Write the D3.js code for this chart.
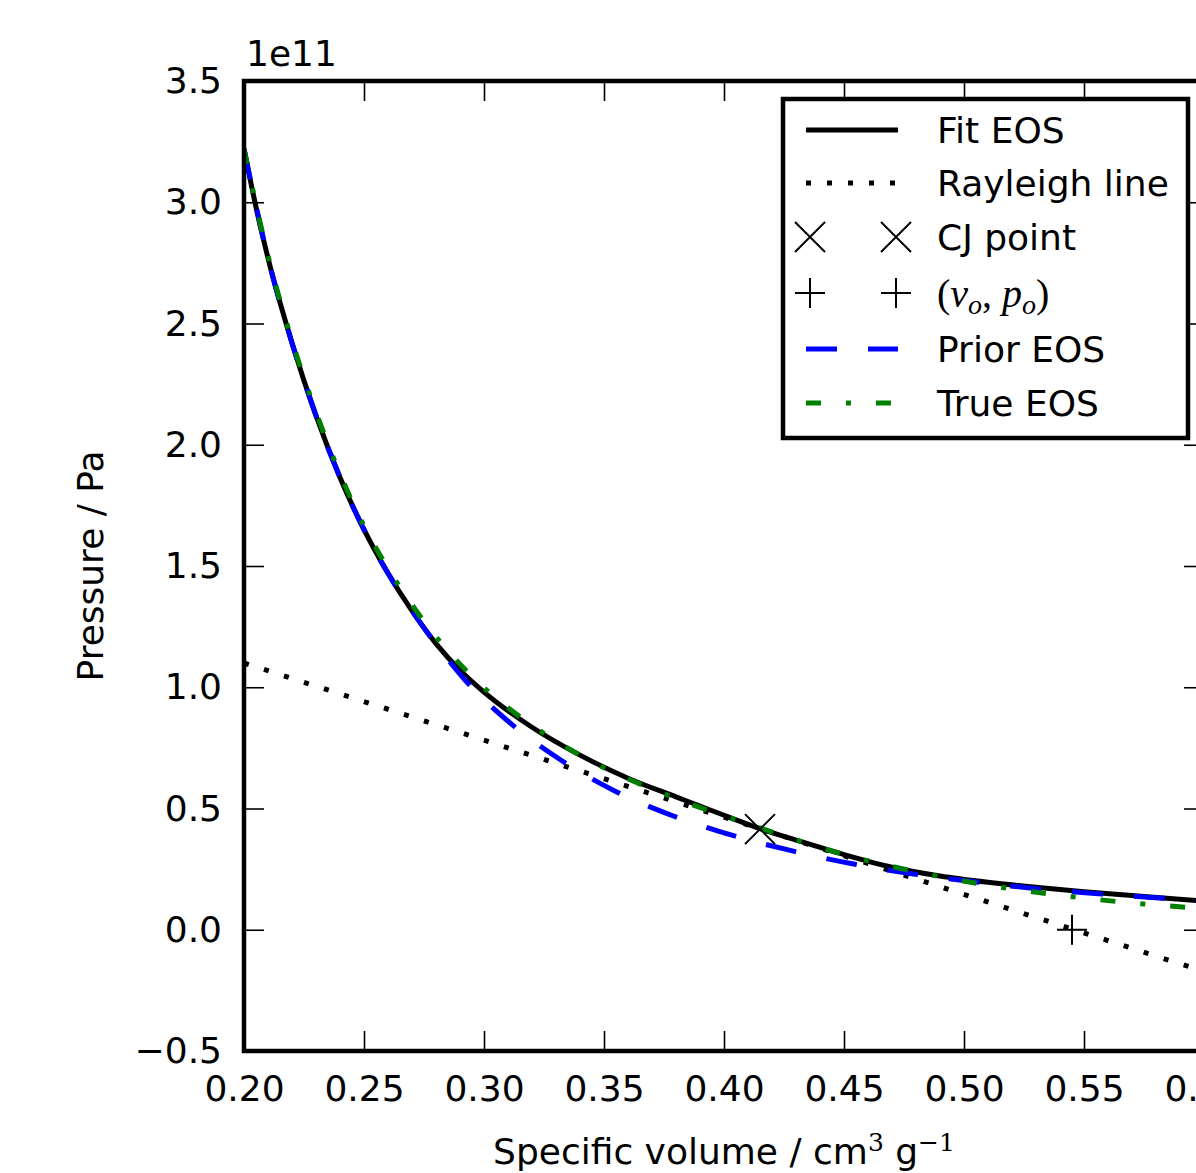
<!DOCTYPE html>
<html>
<head>
<meta charset="utf-8">
<script src="https://cdn.jsdelivr.net/npm/d3@7"></script>
<style>
  body { margin: 0; background: #fff; }
  svg { display: block; font-family: "DejaVu Sans", sans-serif; }
</style>
</head>
<body>
<div id="chart"></div>
<script>
// Data (pressure in units of 1e11 Pa, specific volume in cm^3/g)
var fitVolume = [0.200, 0.205, 0.210, 0.220, 0.230, 0.240, 0.250, 0.260, 0.270, 0.280, 0.290, 0.300, 0.320, 0.340, 0.360, 0.380, 0.400, 0.415, 0.430, 0.450, 0.470, 0.490, 0.510, 0.530, 0.550, 0.575, 0.600];
var fitPressure = [3.22, 2.98, 2.77, 2.42, 2.12, 1.865, 1.65, 1.47, 1.315, 1.18, 1.07, 0.98, 0.835, 0.72, 0.625, 0.548, 0.472, 0.417, 0.37, 0.31, 0.258, 0.222, 0.196, 0.175, 0.157, 0.137, 0.118];

var priorVolume = [0.200, 0.210, 0.220, 0.230, 0.240, 0.250, 0.260, 0.270, 0.2757, 0.2921, 0.3111, 0.332, 0.3547, 0.3786, 0.4033, 0.4285, 0.454, 0.4796, 0.5053, 0.5313, 0.5574, 0.583, 0.600];
var priorPressure = [3.22, 2.77, 2.42, 2.12, 1.865, 1.65, 1.47, 1.315, 1.235, 1.03, 0.851, 0.70, 0.571, 0.47, 0.39, 0.325, 0.271, 0.229, 0.197, 0.168, 0.147, 0.13, 0.12];

var trueVolume = [0.200, 0.210, 0.220, 0.230, 0.240, 0.250, 0.260, 0.270, 0.2778, 0.2976, 0.3219, 0.348, 0.3733, 0.415, 0.4483, 0.490, 0.5204, 0.5496, 0.580, 0.600];
var truePressure = [3.22, 2.78, 2.43, 2.135, 1.88, 1.665, 1.49, 1.34, 1.235, 1.02, 0.83, 0.678, 0.567, 0.42, 0.315, 0.219, 0.168, 0.131, 0.102, 0.088];

var rayleighVolume = [0.200, 0.600];
var rayleighPressure = [1.10, -0.172];

var cjPoint = [0.415, 0.415];
var initialPoint = [0.545, 0.0];

var xTicks = [0.20, 0.25, 0.30, 0.35, 0.40, 0.45, 0.50, 0.55, 0.60];
var yTicks = [-0.5, 0.0, 0.5, 1.0, 1.5, 2.0, 2.5, 3.0, 3.5];

var legendLabels = ["Fit EOS", "Rayleigh line", "CJ point", "(vo, po)", "Prior EOS", "True EOS"];

// Canvas
var W = 1196, H = 1173;
var margin = { left: 244, right: 1204, top: 81, bottom: 1051 };
var fontSize = 36;

var svg = d3.select("#chart")
    .append("svg")
    .attr("width", W)
    .attr("height", H);

svg.append("defs").append("clipPath")
    .attr("id", "plotclip")
    .append("rect")
    .attr("x", margin.left).attr("y", margin.top)
    .attr("width", margin.right - margin.left).attr("height", margin.bottom - margin.top);

var x = d3.scaleLinear().domain([0.2, 0.6]).range([margin.left, margin.right]);
var y = d3.scaleLinear().domain([-0.5, 3.5]).range([margin.bottom, margin.top]);

function zip(a, b) { return a.map(function (v, i) { return [v, b[i]]; }); }

var line = d3.line()
    .x(function (d) { return x(d[0]); })
    .y(function (d) { return y(d[1]); })
    .curve(d3.curveMonotoneX);

var plot = svg.append("g").attr("clip-path", "url(#plotclip)");

// Fit EOS
plot.append("path")
    .datum(zip(fitVolume, fitPressure))
    .attr("d", line)
    .attr("fill", "none").attr("stroke", "#000").attr("stroke-width", 5);

// Rayleigh line
plot.append("path")
    .datum(zip(rayleighVolume, rayleighPressure))
    .attr("d", d3.line().x(function (d) { return x(d[0]); }).y(function (d) { return y(d[1]); }))
    .attr("fill", "none").attr("stroke", "#000").attr("stroke-width", 5)
    .attr("stroke-dasharray", "5,16");

// markers
function drawX(g, cx, cy) {
    g.append("path")
        .attr("d", "M" + (cx - 15) + "," + (cy - 15) + "L" + (cx + 15) + "," + (cy + 15) +
                   "M" + (cx - 15) + "," + (cy + 15) + "L" + (cx + 15) + "," + (cy - 15))
        .attr("stroke", "#000").attr("stroke-width", 2).attr("fill", "none");
}
function drawPlus(g, cx, cy) {
    g.append("path")
        .attr("d", "M" + (cx - 15) + "," + cy + "L" + (cx + 15) + "," + cy +
                   "M" + cx + "," + (cy - 15) + "L" + cx + "," + (cy + 15))
        .attr("stroke", "#000").attr("stroke-width", 2).attr("fill", "none");
}
drawX(svg, x(cjPoint[0]), y(cjPoint[1]));
drawPlus(svg, x(initialPoint[0]), y(initialPoint[1]));

// Prior EOS
plot.append("path")
    .datum(zip(priorVolume, priorPressure))
    .attr("d", line)
    .attr("fill", "none").attr("stroke", "#0000ff").attr("stroke-width", 5)
    .attr("stroke-dasharray", "31,31");

// True EOS
plot.append("path")
    .datum(zip(trueVolume, truePressure))
    .attr("d", line)
    .attr("fill", "none").attr("stroke", "#008000").attr("stroke-width", 5)
    .attr("stroke-dasharray", "15,25,5,25");

// Axes, ticks pointing inward
var xAxis = svg.append("g")
    .attr("transform", "translate(0," + margin.bottom + ")")
    .call(d3.axisBottom(x).tickValues(xTicks).tickSizeInner(-20).tickSizeOuter(0).tickPadding(24)
        .tickFormat(d3.format(".2f")));
var xTop = svg.append("g")
    .attr("transform", "translate(0," + margin.top + ")")
    .call(d3.axisTop(x).tickValues(xTicks).tickSizeInner(-20).tickSizeOuter(0).tickFormat(""));
var yAxis = svg.append("g")
    .attr("transform", "translate(" + margin.left + ",0)")
    .call(d3.axisLeft(y).tickValues(yTicks).tickSizeInner(-20).tickSizeOuter(0).tickPadding(22)
        .tickFormat(function (d) { return d3.format(".1f")(d).replace("-", "\u2212"); }));
var yRight = svg.append("g")
    .attr("transform", "translate(" + margin.right + ",0)")
    .call(d3.axisRight(y).tickValues(yTicks).tickSizeInner(-20).tickSizeOuter(0).tickFormat(""));

[xAxis, xTop, yAxis, yRight].forEach(function (g) {
    g.select(".domain").remove();
    g.selectAll(".tick line").attr("stroke", "#000").attr("stroke-width", 1.6);
    g.selectAll(".tick text")
        .attr("fill", "#000")
        .style("font-family", "DejaVu Sans")
        .style("font-size", fontSize + "px");
});

// Spines
svg.append("rect")
    .attr("x", margin.left).attr("y", margin.top)
    .attr("width", margin.right - margin.left).attr("height", margin.bottom - margin.top)
    .attr("fill", "none").attr("stroke", "#000").attr("stroke-width", 4.5);

// Offset text
svg.append("text")
    .attr("x", 246).attr("y", 66)
    .style("font-size", fontSize + "px")
    .text("1e11");

// Axis labels
var xLabel = svg.append("text")
    .attr("x", (margin.left + margin.right) / 2).attr("y", 1164)
    .attr("text-anchor", "middle")
    .style("font-size", fontSize + "px");
xLabel.append("tspan").text("Specific volume / cm");
xLabel.append("tspan").attr("dy", -13).style("font-family", "DejaVu Serif").style("font-size", "25px").text("3");
xLabel.append("tspan").attr("dy", 13).text(" g");
xLabel.append("tspan").attr("dy", -13).style("font-family", "DejaVu Serif").style("font-size", "25px").text("\u22121");

svg.append("text")
    .attr("transform", "translate(103," + ((margin.top + margin.bottom) / 2) + ") rotate(-90)")
    .attr("text-anchor", "middle")
    .style("font-size", fontSize + "px")
    .text("Pressure / Pa");

// Legend
var legend = svg.append("g");
legend.append("rect")
    .attr("x", 783).attr("y", 99)
    .attr("width", 405).attr("height", 339)
    .attr("fill", "#fff").attr("stroke", "#000").attr("stroke-width", 4.5);

var rowY = [130, 183, 237, 293, 349, 403];
var hx0 = 806, hx1 = 898, tx = 937;

function handleLine(yy, color, dash) {
    var p = legend.append("line")
        .attr("x1", hx0).attr("x2", hx1).attr("y1", yy).attr("y2", yy)
        .attr("stroke", color).attr("stroke-width", 5);
    if (dash) p.attr("stroke-dasharray", dash);
}
handleLine(rowY[0], "#000", null);
handleLine(rowY[1], "#000", "5,16");
drawX(legend, 810, rowY[2]); drawX(legend, 896, rowY[2]);
drawPlus(legend, 810, rowY[3]); drawPlus(legend, 896, rowY[3]);
handleLine(rowY[4], "#0000ff", "31,31");
handleLine(rowY[5], "#008000", "15,25,5,25");

legendLabels.forEach(function (lab, i) {
    var t = legend.append("text")
        .attr("x", tx).attr("y", rowY[i])
        .attr("dy", "0.36em")
        .style("font-size", fontSize + "px");
    if (i === 3) {
        t.style("font-family", "Liberation Serif").style("font-size", "40px");
        t.append("tspan").text("(");
        t.append("tspan").style("font-style", "italic").text("v");
        t.append("tspan").attr("dy", 7).style("font-style", "italic").style("font-size", "28px").text("o");
        t.append("tspan").attr("dy", -7).text(", ");
        t.append("tspan").style("font-style", "italic").text("p");
        t.append("tspan").attr("dy", 7).style("font-style", "italic").style("font-size", "28px").text("o");
        t.append("tspan").attr("dy", -7).text(")");
    } else {
        t.text(lab);
    }
});
</script>
</body>
</html>
